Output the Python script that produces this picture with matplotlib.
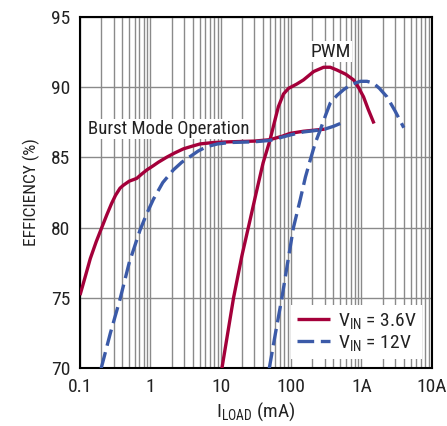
import matplotlib
matplotlib.use('Agg')
import matplotlib.pyplot as plt
from matplotlib.ticker import FixedLocator, LogLocator, NullFormatter

plt.rcParams['font.family'] = ['Roboto Condensed', 'DejaVu Sans']
plt.rcParams['mathtext.default'] = 'regular'

# load current (mA) vs efficiency (%)
burst_36_i = [0.1, 0.12, 0.14, 0.17, 0.2, 0.24, 0.28, 0.32, 0.37, 0.41, 0.5, 0.64, 0.75, 0.89, 1.1, 1.3, 1.7,
              2.2, 2.95, 4, 5.1, 7.9, 13.6, 30, 50, 75, 97, 150, 300]
burst_36_e = [75.2, 76.6, 77.8, 79.0, 79.9, 80.9, 81.7, 82.3, 82.8, 83.0, 83.3, 83.5, 83.8, 84.1, 84.4, 84.65, 85.0,
              85.3, 85.6, 85.8, 85.95, 86.05, 86.1, 86.15, 86.25, 86.5, 86.7, 86.85, 87.0]
pwm_36_i = [10.4, 15.2, 20, 26, 32, 40, 50, 58, 66, 78, 92, 120, 150, 210, 290, 360, 450, 600, 773, 900, 1070, 1250, 1510]
pwm_36_e = [70.0, 75.0, 78.0, 80.5, 82.5, 84.6, 86.2, 87.5, 88.6, 89.5, 89.9, 90.2, 90.5, 91.1, 91.4, 91.4, 91.2,
            90.9, 90.5, 90.0, 89.3, 88.4, 87.4]

burst_12_i = [0.2, 0.27, 0.37, 0.5, 0.71, 0.89, 1.1, 1.5, 2.12, 2.8, 3.67, 4.8, 6.3, 9, 13.6, 30, 50, 100, 150,
              220, 300, 400, 500]
burst_12_e = [70.0, 72.5, 74.9, 77.5, 79.8, 81.0, 82.0, 83.2, 84.1, 84.65, 85.05, 85.45, 85.75, 85.95, 86.05, 86.1,
              86.2, 86.6, 86.8, 86.9, 87.0, 87.2, 87.4]
pwm_12_i = [49, 60, 74, 90, 108, 135, 160, 187, 220, 260, 310, 360, 450, 556, 700, 960, 1200, 1480, 1800, 2300,
            3000, 4000]
pwm_12_e = [70.0, 72.5, 75.0, 77.6, 80.0, 82.0, 83.6, 84.8, 86.0, 86.95, 88.0, 88.85, 89.4, 89.8, 90.15, 90.4, 90.4,
            90.27, 89.9, 89.3, 88.3, 87.1]

x_ticks = [0.1, 1, 10, 100, 1000, 10000]
x_labels = ['0.1', '1', '10', '100', '1A', '10A']
y_ticks = [70, 75, 80, 85, 90, 95]

red = '#a4003a'
blue = '#3b5aa8'

fig = plt.figure(figsize=(4.47, 4.26), dpi=100)
ax = fig.add_axes([0.179, 0.1355, 0.787, 0.8255])

ax.set_xscale('log')
ax.set_xlim(0.1, 10000)
ax.set_ylim(70, 95)

ax.plot(burst_36_i, burst_36_e, color=red, lw=2.4, solid_capstyle='butt', zorder=3)
ax.plot(pwm_36_i, pwm_36_e, color=red, lw=2.4, solid_capstyle='butt', zorder=3,
        label='V$_{IN}$ = 3.6V')
ax.plot(burst_12_i, burst_12_e, color=blue, lw=2.4, dashes=(5, 2), zorder=4)
ax.plot(pwm_12_i, pwm_12_e, color=blue, lw=2.4, dashes=(5, 2), zorder=4,
        label='V$_{IN}$ = 12V')

ax.xaxis.set_major_locator(FixedLocator(x_ticks))
ax.set_xticklabels(x_labels)
ax.xaxis.set_minor_locator(LogLocator(base=10, subs=range(2, 10)))
ax.xaxis.set_minor_formatter(NullFormatter())
ax.set_yticks(y_ticks)
ax.tick_params(which='both', length=0, labelsize=14, pad=7, labelcolor='#222222')

ax.grid(which='major', axis='both', color='#8a8a8a', lw=1.0)
ax.grid(which='minor', axis='x', color='#8a8a8a', lw=1.0)
ax.set_axisbelow(True)
for s in ax.spines.values():
    s.set_linewidth(1.5)

ax.set_xlabel('I$_{LOAD}$ (mA)', fontsize=14, labelpad=3, color='#222222')
ax.set_ylabel('EFFICIENCY (%)', fontsize=12.5, labelpad=8, color='#222222')

ax.text(0.13, 87.0, 'Burst Mode Operation', fontsize=13.5, va='center', ha='left', color='#222222',
        bbox=dict(facecolor='white', edgecolor='none', pad=1), zorder=5)
ax.text(190, 92.5, 'PWM', fontsize=14, va='center', ha='left', color='#222222',
        bbox=dict(facecolor='white', edgecolor='none', pad=1), zorder=5)

leg = ax.legend(loc='lower right', fontsize=14, frameon=True, fancybox=False,
                edgecolor='none', framealpha=1, handlelength=1.7, handletextpad=0.4,
                borderaxespad=0.5, labelspacing=0.1, borderpad=0.3)
for t in leg.get_texts():
    t.set_color('#222222')

fig.savefig('out.png', dpi=100)
